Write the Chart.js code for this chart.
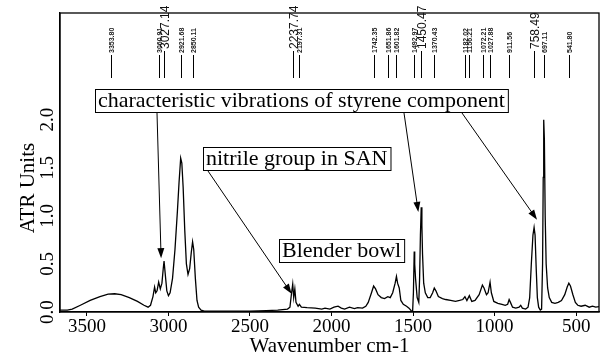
<!DOCTYPE html>
<html>
<head>
<meta charset="utf-8">
<script src="https://cdn.jsdelivr.net/npm/chart.js@4.4.1/dist/chart.umd.min.js"></script>
<style>
  html, body { margin: 0; padding: 0; background: #fff; }
  canvas { display: block; }
</style>
</head>
<body>
<canvas id="spectrum" width="606" height="360"></canvas>
<script>
// ATR-FTIR spectrum, wavenumber (cm-1) vs absorbance (ATR units)
const wavenumbers = [
  3665, 3620, 3590, 3540, 3480, 3420, 3370, 3330, 3290, 3240, 3190, 3150, 3125, 3110,
  3095, 3085, 3078, 3070, 3060, 3050, 3040, 3032, 3027, 3020, 3010, 3000, 2990, 2975,
  2960, 2945, 2935, 2925, 2918, 2910, 2900, 2890, 2880, 2870, 2860, 2852, 2845, 2835,
  2825, 2815, 2800, 2780, 2700, 2600, 2500, 2400, 2330, 2300, 2270, 2255, 2245, 2238,
  2232, 2225, 2218, 2205, 2197, 2185, 2150, 2100, 2060, 2040, 2010, 1985, 1960, 1940,
  1920, 1890, 1860, 1840, 1810, 1790, 1775, 1755, 1742, 1730, 1715, 1695, 1675, 1655,
  1640, 1625, 1610, 1602, 1595, 1585, 1575, 1560, 1540, 1525, 1510, 1503, 1498, 1493,
  1490, 1485, 1475, 1465, 1460, 1455, 1450, 1446, 1442, 1435, 1425, 1410, 1395, 1380,
  1370, 1360, 1345, 1320, 1300, 1270, 1240, 1215, 1195, 1182, 1170, 1155, 1140, 1120,
  1095, 1075, 1065, 1050, 1040, 1028, 1020, 1005, 980, 955, 935, 920, 911, 903,
  890, 870, 850, 840, 830, 810, 795, 785, 775, 765, 758, 752, 745, 738,
  730, 720, 712, 706, 702, 699, 695, 690, 684, 675, 665, 650, 630, 610,
  590, 570, 555, 545, 535, 520, 505, 490, 470, 445, 420, 400, 380, 360
];
const absorbance = [
  0.02, 0.02, 0.03, 0.07, 0.12, 0.16, 0.185, 0.19, 0.18, 0.15, 0.11, 0.07, 0.05, 0.07,
  0.16, 0.26, 0.20, 0.22, 0.31, 0.24, 0.30, 0.45, 0.53, 0.40, 0.22, 0.17, 0.20, 0.35,
  0.65, 1.05, 1.35, 1.60, 1.55, 1.30, 0.85, 0.50, 0.39, 0.45, 0.62, 0.73, 0.65, 0.35,
  0.12, 0.05, 0.02, 0.01, 0.01, 0.01, 0.01, 0.015, 0.02, 0.025, 0.03, 0.05, 0.20, 0.29,
  0.15, 0.24, 0.10, 0.06, 0.08, 0.05, 0.045, 0.04, 0.03, 0.04, 0.03, 0.05, 0.06, 0.04,
  0.03, 0.05, 0.035, 0.045, 0.04, 0.06, 0.10, 0.20, 0.27, 0.24, 0.18, 0.15, 0.14, 0.16,
  0.15, 0.20, 0.30, 0.37, 0.30, 0.25, 0.12, 0.08, 0.06, 0.04, 0.01, 0.00, 0.20, 0.63,
  0.50, 0.35, 0.15, 0.10, 0.35, 0.80, 1.09, 0.90, 0.60, 0.30, 0.20, 0.15, 0.15, 0.20,
  0.25, 0.22, 0.16, 0.14, 0.13, 0.12, 0.11, 0.12, 0.13, 0.16, 0.12, 0.17, 0.11, 0.12,
  0.18, 0.28, 0.25, 0.18, 0.20, 0.31, 0.20, 0.11, 0.09, 0.08, 0.07, 0.08, 0.13, 0.10,
  0.05, 0.04, 0.05, 0.07, 0.04, 0.03, 0.05, 0.15, 0.50, 0.80, 0.88, 0.80, 0.45, 0.15,
  0.05, 0.02, 0.03, 0.50, 1.40, 2.00, 1.80, 1.00, 0.50, 0.25, 0.15, 0.10, 0.09, 0.10,
  0.12, 0.18, 0.26, 0.30, 0.27, 0.18, 0.10, 0.07, 0.06, 0.07, 0.05, 0.06, 0.05, 0.055
];

const xTicks = [3500, 3000, 2500, 2000, 1500, 1000, 500];
const yTicks = [0, 0.5, 1.0, 1.5, 2.0];

// peak picks printed along the top of the plot
const peakPositions = [3353.80, 3060.91, 3027.14, 2921.68, 2850.11, 2237.74, 2197.31, 1742.35,
  1651.86, 1601.82, 1492.97, 1450.47, 1370.43, 1182.02, 1156.21, 1072.21, 1027.88, 911.56,
  758.49, 697.11, 541.80];
const peakLabels = ['3353.80', '3060.91', '3027.14', '2921.68', '2850.11', '2237.74', '2197.31',
  '1742.35', '1651.86', '1601.82', '1492.97', '1450.47', '1370.43', '1182.02', '1156.21',
  '1072.21', '1027.88', '911.56', '758.49', '697.11', '541.80'];
const majorPeaks = ['3027.14', '2237.74', '1450.47', '758.49'];

// annotations: text, and where each arrow points (wavenumber, absorbance)
const styreneNote = 'characteristic vibrations of styrene component';
const styreneTips = [[3045, 0.56], [1468, 1.04], [740, 0.96]];
const nitrileNote = 'nitrile group in SAN';
const nitrileTip = [2245, 0.19];
const bowlNote = 'Blender bowl';

const SERIF = '"Liberation Serif", "Times New Roman", serif';
const SANS = '"Liberation Sans", Arial, sans-serif';

function drawBox(ctx, text, left, top, height) {
  ctx.font = '22px ' + SERIF;
  const w = ctx.measureText(text).width + 6;
  ctx.fillStyle = '#fff';
  ctx.fillRect(left, top, w, height);
  ctx.strokeStyle = '#000';
  ctx.lineWidth = 1;
  ctx.strokeRect(left + 0.5, top + 0.5, w, height);
  ctx.fillStyle = '#000';
  ctx.textAlign = 'left';
  ctx.textBaseline = 'middle';
  ctx.fillText(text, left + 3, top + height / 2 + 1);
  return { left, top, right: left + w, bottom: top + height };
}

function drawArrow(ctx, x0, y0, x1, y1) {
  const ang = Math.atan2(y1 - y0, x1 - x0);
  const len = 10, half = 3.5;
  ctx.strokeStyle = '#000';
  ctx.lineWidth = 1;
  ctx.beginPath();
  ctx.moveTo(x0, y0);
  ctx.lineTo(x1 - Math.cos(ang) * len * 0.8, y1 - Math.sin(ang) * len * 0.8);
  ctx.stroke();
  ctx.fillStyle = '#000';
  ctx.beginPath();
  ctx.moveTo(x1, y1);
  ctx.lineTo(x1 - Math.cos(ang) * len - Math.sin(ang) * half, y1 - Math.sin(ang) * len + Math.cos(ang) * half);
  ctx.lineTo(x1 - Math.cos(ang) * len + Math.sin(ang) * half, y1 - Math.sin(ang) * len - Math.cos(ang) * half);
  ctx.closePath();
  ctx.fill();
}

const spectrumDecor = {
  id: 'spectrumDecor',
  afterDraw(chart) {
    const { ctx, chartArea: area, scales: { x, y } } = chart;
    ctx.save();

    // plot frame
    ctx.strokeStyle = '#000';
    ctx.lineWidth = 1.3;
    ctx.strokeRect(area.left, area.top, area.right - area.left, area.bottom - area.top);

    // peak picks
    peakPositions.forEach((wn, i) => {
      const px = Math.round(x.getPixelForValue(wn)) + 0.5;
      const big = majorPeaks.includes(peakLabels[i]);
      ctx.strokeStyle = '#000';
      ctx.lineWidth = 1;
      ctx.beginPath();
      ctx.moveTo(px, big ? 51 : 55);
      ctx.lineTo(px, 78);
      ctx.stroke();
      ctx.save();
      ctx.translate(px + 1, big ? 49 : 53);
      ctx.rotate(-Math.PI / 2);
      ctx.fillStyle = big ? '#111' : '#222';
      ctx.font = big ? '12px ' + SANS : 'bold 7px ' + SANS;
      ctx.textAlign = 'left';
      ctx.textBaseline = 'middle';
      ctx.fillText(peakLabels[i], 0, 0);
      ctx.restore();
    });

    // styrene note with three arrows
    const sBox = drawBox(ctx, styreneNote, 95, 89, 23);
    const starts = [157, 404, 462];
    styreneTips.forEach((tip, i) => {
      drawArrow(ctx, starts[i], sBox.bottom + 1, x.getPixelForValue(tip[0]), y.getPixelForValue(tip[1]));
    });

    // nitrile note
    const nBox = drawBox(ctx, nitrileNote, 203, 147, 23);
    drawArrow(ctx, 208, nBox.bottom + 1, x.getPixelForValue(nitrileTip[0]), y.getPixelForValue(nitrileTip[1]));

    drawBox(ctx, bowlNote, 279, 239, 23);

    // y axis title
    ctx.save();
    ctx.translate(28, 188);
    ctx.rotate(-Math.PI / 2);
    ctx.fillStyle = '#000';
    ctx.font = '21px ' + SERIF;
    ctx.textAlign = 'center';
    ctx.textBaseline = 'middle';
    ctx.fillText('ATR Units', 0, 0);
    ctx.restore();

    ctx.restore();
  }
};

const ctx = document.getElementById('spectrum');

new Chart(ctx, {
  type: 'line',
  data: {
    datasets: [{
      data: wavenumbers.map((w, i) => ({ x: w, y: absorbance[i] })),
      borderColor: '#000',
      borderWidth: 1.3,
      pointRadius: 0,
      tension: 0,
      fill: false,
    }],
  },
  options: {
    responsive: false,
    animation: false,
    layout: { padding: { top: 13, right: 7, left: 0, bottom: 0 } },
    plugins: {
      legend: { display: false },
      tooltip: { enabled: false },
    },
    scales: {
      x: {
        type: 'linear',
        reverse: true,
        min: 360,
        max: 3665,
        afterFit: (scale) => { scale.height = 48; },
        afterBuildTicks: (scale) => { scale.ticks = xTicks.map(v => ({ value: v })); },
        grid: { drawOnChartArea: false, tickLength: 4, color: '#000' },
        border: { color: '#000', width: 1.3 },
        ticks: {
          autoSkip: false,
          maxRotation: 0,
          padding: 0,
          color: '#000',
          font: { family: SERIF, size: 19 },
          callback: (v) => String(v),
        },
        title: {
          display: true,
          text: 'Wavenumber cm-1',
          color: '#000',
          font: { family: SERIF, size: 21 },
          padding: { top: 0, bottom: 1 },
        },
      },
      y: {
        min: 0,
        max: 3.11,
        afterFit: (scale) => { scale.width = 60; },
        afterBuildTicks: (scale) => { scale.ticks = yTicks.map(v => ({ value: v })); },
        grid: { drawOnChartArea: false, drawTicks: false },
        border: { color: '#000', width: 1.3 },
        ticks: {
          minRotation: 90,
          maxRotation: 90,
          crossAlign: 'center',
          padding: 0,
          color: '#000',
          font: { family: SERIF, size: 19 },
          callback: (v) => v.toFixed(1),
        },
      },
    },
  },
  plugins: [spectrumDecor],
});
</script>
</body>
</html>
